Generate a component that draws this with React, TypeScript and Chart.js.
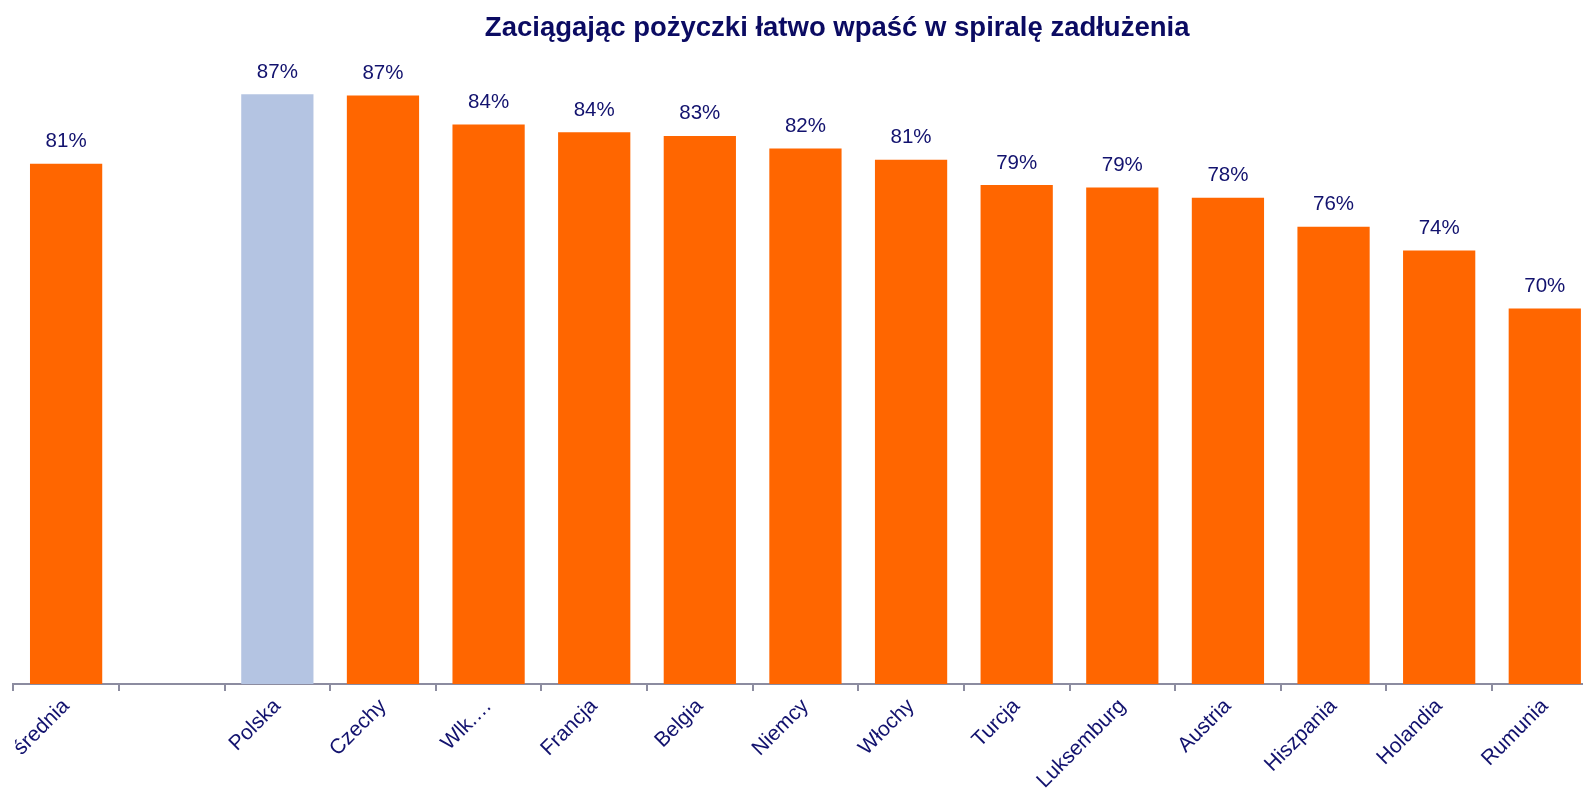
import React, { useEffect, useRef } from 'react';
import { Chart, registerables } from 'chart.js';

Chart.register(...registerables);

const categories = ['średnia', '', 'Polska', 'Czechy', 'Wlk.…', 'Francja', 'Belgia', 'Niemcy', 'Włochy', 'Turcja', 'Luksemburg', 'Austria', 'Hiszpania', 'Holandia', 'Rumunia'];
const values: (number | null)[] = [81.1, null, 86.6, 86.5, 84.2, 83.6, 83.3, 82.3, 81.4, 79.4, 79.2, 78.4, 76.1, 74.2, 69.6];
const highlighted = ['Polska'];
const titleText = 'Zaciągając pożyczki łatwo wpaść w spiralę zadłużenia';

const ORANGE = '#FF6600';
const BLUE = '#B4C4E2';
const NAVY = '#12126E';
const TITLE_NAVY = '#0B0B62';
const AXIS = '#8C8CA0';
const FONT = '"Liberation Sans", Arial, sans-serif';

const valueLabelPlugin = {
  id: 'valueLabels',
  afterDatasetsDraw(chart: any) {
    const ctx = chart.ctx;
    const meta = chart.getDatasetMeta(0);
    ctx.save();
    ctx.font = `20.5px ${FONT}`;
    ctx.fillStyle = NAVY;
    ctx.textAlign = 'center';
    ctx.textBaseline = 'alphabetic';
    meta.data.forEach((bar: any, i: number) => {
      const v = values[i];
      if (v == null) return;
      ctx.fillText(`${Math.round(v)}%`, bar.x, bar.y - 16.5);
    });
    ctx.restore();
  },
};

export default function App() {
  const canvasRef = useRef<HTMLCanvasElement | null>(null);

  useEffect(() => {
    if (!canvasRef.current) return;
    const chart = new Chart(canvasRef.current, {
      type: 'bar',
      data: {
        labels: categories,
        datasets: [
          {
            data: values,
            backgroundColor: categories.map((c) => (highlighted.includes(c) ? BLUE : ORANGE)),
            borderWidth: 0,
            categoryPercentage: 1,
            barPercentage: 0.684,
          },
        ],
      },
      options: {
        animation: false,
        responsive: true,
        maintainAspectRatio: false,
        layout: { padding: { left: 13.3, right: 0, top: 0, bottom: 0 } },
        plugins: {
          legend: { display: false },
          tooltip: { enabled: false },
          title: {
            display: true,
            text: titleText,
            color: TITLE_NAVY,
            font: { family: FONT, size: 27.5, weight: 'bold', lineHeight: 1.2 },
            padding: { top: 12, bottom: 6.5 },
          },
        },
        scales: {
          x: {
            grid: {
              display: true,
              offset: true,
              drawOnChartArea: false,
              drawTicks: true,
              tickLength: 7,
              color: AXIS,
              lineWidth: 2,
            },
            border: { display: true, color: AXIS, width: 2 },
            ticks: {
              autoSkip: false,
              minRotation: 45,
              maxRotation: 45,
              color: NAVY,
              padding: 3,
              font: { family: FONT, size: 21 },
            },
            afterFit: (scale: any) => {
              scale.height = 120;
              scale.paddingLeft = 0;
              scale.paddingRight = 0;
            },
          },
          y: {
            position: 'right',
            min: 39.8,
            max: 90,
            display: true,
            grid: { display: false },
            border: { display: false },
            ticks: { display: false },
            afterFit: (scale: any) => {
              scale.width = 63.4;
            },
          },
        },
      },
      plugins: [valueLabelPlugin],
    } as any);
    return () => chart.destroy();
  }, []);

  return (
    <div style={{ position: 'fixed', left: 0, top: 0, width: 1661, height: 804, background: '#ffffff' }}>
      <canvas ref={canvasRef} />
    </div>
  );
}
